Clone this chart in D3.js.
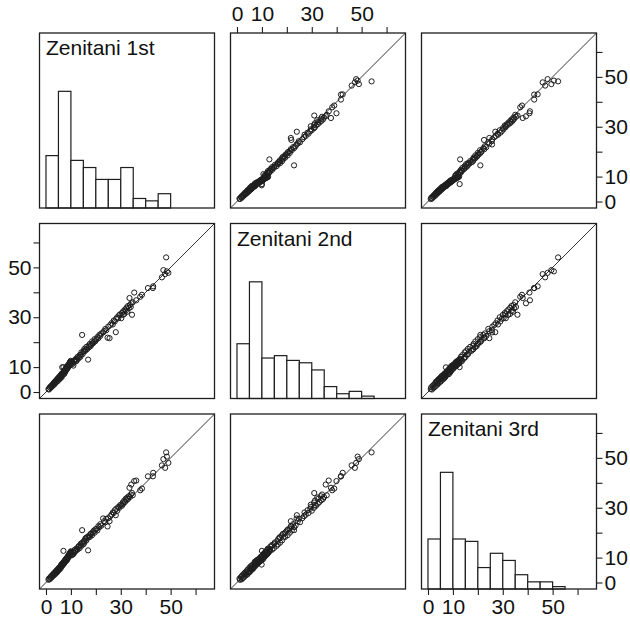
<!DOCTYPE html>
<html>
<head>
<meta charset="utf-8">
<script src="https://cdn.jsdelivr.net/npm/d3@7"></script>
<style>
  body { margin: 0; background: #fff; }
  text { font-family: "Liberation Sans", Arial, Helvetica, sans-serif; fill: #111; }
</style>
</head>
<body>
<script>
// Variable names shown on the diagonal.
const names = ['Zenitani 1st', 'Zenitani 2nd', 'Zenitani 3rd'];

// One value per case for each variable.
const first = [
  1.0, 1.2, 1.5, 1.8, 2.0, 2.2, 2.5, 2.7, 3.0, 3.1, 3.3, 3.5, 3.7, 3.9, 4.0, 4.2, 4.3, 4.5, 4.6, 4.8, 4.9, 5.0,
  5.1, 5.3, 5.4, 5.6, 5.8, 5.9, 6.0, 6.1, 6.2, 6.3, 6.3, 6.5, 6.6, 6.8, 6.9, 7.0, 7.0, 7.2, 7.3, 7.4,
  7.5, 7.6, 7.7, 7.8, 7.9, 8.0, 8.1, 8.1, 8.3, 8.4, 8.5, 8.6, 8.7, 8.8, 8.9, 9.0, 9.1, 9.2, 9.2, 9.3,
  9.4, 9.5, 9.6, 9.6, 9.7, 9.8, 9.9, 9.9, 10.0,
  10.3, 10.5, 10.8, 11.0, 11.2, 11.5, 11.7, 12.0, 12.2, 12.4, 12.7, 13.0, 13.2, 13.5, 13.8, 14.0, 14.2, 14.5, 14.7, 15.0,
  15.2, 15.4, 15.7, 16.0, 16.2, 16.5, 16.9, 17.1, 17.3, 17.6, 17.9, 18.2, 18.5, 18.8, 19.2, 19.5, 19.8,
  20.2, 20.6, 21.0, 21.4, 21.8, 22.2, 22.9, 23.3, 23.8, 24.2, 24.7, 25.0,
  25.5, 25.8, 26.3, 26.8, 27.2, 27.6, 28.0, 28.2, 28.6, 29.0, 29.4, 29.8,
  30.2, 30.5, 30.8, 31.0, 31.4, 31.7, 32.0, 32.3, 32.6, 32.9, 33.2, 33.5, 33.7, 34.0, 34.2, 34.5, 34.8,
  35.4, 36.2, 37.8, 38.5,
  40.9, 42.9, 43.0,
  46.5, 47.1, 47.8, 48.2, 48.5, 49.1
];
const second = [
  1.2, 1.0, 1.9, 1.6, 2.4, 2.0, 2.9, 2.5, 3.4, 3.6, 3.0, 4.1, 3.5, 4.4, 4.6, 4.0, 4.9, 5.1, 4.3, 5.4, 5.6, 5.3,
  5.8, 5.0, 6.1, 6.4, 5.5, 6.6, 6.9, 6.3, 7.1, 6.0, 7.3, 9.9, 7.5, 7.0, 7.8, 10.0, 7.6, 8.3, 7.2, 8.5,
  8.1, 8.9, 8.0, 9.2, 8.6, 9.5, 8.9, 9.8, 9.1, 10.2, 9.4, 10.4, 9.6, 10.7, 10.0, 10.9, 10.3, 11.1, 10.6, 11.4,
  10.8, 11.6, 11.0, 12.0, 11.3, 12.2, 11.5, 12.5, 11.8,
  11.0, 11.9, 11.4, 10.6, 12.6, 12.1, 12.9, 13.3, 12.4, 13.0, 14.1, 13.4, 13.9, 14.8, 14.1, 15.0, 15.9, 22.9, 15.2, 16.4,
  16.2, 17.3, 16.5, 17.0, 18.1, 17.2, 13.0, 18.6, 18.0, 19.3, 18.4, 19.1, 20.3, 19.5, 20.0, 21.2, 20.4,
  21.1, 22.0, 21.6, 22.9, 22.5, 23.5, 23.9, 24.4, 25.3, 24.8, 21.8, 26.2,
  21.6, 26.9, 27.6, 27.1, 28.7, 28.3, 24.0, 29.4, 30.0, 29.6, 30.9, 31.2,
  29.6, 31.7, 30.9, 32.4, 31.3, 33.1, 32.6, 33.8, 32.2, 34.5, 33.6, 37.7, 34.9, 34.1, 35.6, 31.0, 36.0,
  39.9, 36.8, 38.2, 39.0,
  41.7, 41.7, 42.4,
  46.0, 48.9, 47.3, 54.0, 48.4, 47.8
];
const third = [
  1.1, 1.6, 1.3, 2.2, 1.8, 2.7, 2.3, 3.2, 2.8, 3.5, 3.8, 3.2, 4.2, 3.6, 4.5, 4.8, 4.1, 4.3, 5.2, 4.6, 5.3, 5.6,
  5.4, 6.0, 5.2, 6.2, 6.5, 5.7, 6.8, 7.0, 6.4, 6.9, 7.4, 7.2, 6.8, 7.9, 7.3, 12.7, 8.1, 7.6, 8.4, 7.9,
  8.8, 8.2, 9.0, 8.5, 9.3, 8.7, 9.6, 9.1, 8.9, 9.8, 10.1, 9.3, 10.3, 9.9, 10.6, 10.2, 10.9, 10.4, 11.2, 10.8,
  11.5, 11.0, 11.7, 11.3, 12.0, 11.6, 12.3, 11.9, 12.5,
  10.9, 11.2, 12.3, 11.4, 12.0, 13.1, 12.4, 12.8, 13.6, 13.4, 13.2, 14.4, 14.6, 13.8, 15.1, 15.6, 14.7, 21.0, 16.1, 15.3,
  16.6, 16.0, 17.4, 17.9, 16.9, 18.2, 12.9, 18.1, 18.9, 18.3, 19.5, 19.7, 19.0, 20.2, 20.8, 20.0, 21.3,
  21.5, 20.9, 22.6, 22.2, 23.4, 22.8, 25.7, 24.6, 24.2, 25.6, 22.5, 25.8,
  24.6, 26.6, 27.2, 28.1, 27.9, 29.0, 27.0, 29.6, 28.8, 30.3, 30.0, 31.1,
  31.2, 30.8, 32.1, 31.6, 32.9, 32.3, 33.6, 33.0, 34.1, 33.5, 34.6, 38.0, 34.3, 35.3, 39.3, 35.9, 35.0,
  40.7, 40.9, 37.0, 37.7,
  42.6, 42.6, 44.0,
  47.0, 49.5, 46.0, 52.2, 50.5, 48.0
];

// Histogram bins (width 5) and counts per variable.
const binEdges = [0, 5, 10, 15, 20, 25, 30, 35, 40, 45, 50, 55];
const hist1 = [22, 49, 20, 17, 12, 12, 17, 4, 3, 6];
const hist2 = [23, 49, 17, 18, 16, 15, 12, 5, 2, 3, 1];
const hist3 = [21, 49, 21, 20, 9, 15, 12, 6, 3, 3, 1];

// Axis ticks.
const tickValues = [0, 10, 20, 30, 40, 50, 60];
const tickLabels = ['0', '10', '', '30', '', '50', ''];

const vars = [first, second, third];
const hists = [hist1, hist2, hist3];

const width = 630;
const height = 619;
const size = 175;
const colX = [39.5, 230.5, 421.5];
const rowY = [33, 223.5, 414];
const ink = '#1e1e1e';
const fontSize = 21;

// Same range on both axes, padded 4% like R.
const domain = [-2.6, 67.6];
const x = d3.scaleLinear().domain(domain).range([0, size]);
const y = d3.scaleLinear().domain(domain).range([size, 0]);
const yHist = d3.scaleLinear().domain([0, 1.5]).range([size, 0]);

const svg = d3.select('body')
  .append('svg')
  .attr('width', width)
  .attr('height', height);

function styleAxis(g) {
  g.select('.domain').remove();
  g.selectAll('.tick line').attr('stroke', ink).attr('stroke-width', 1.1);
  g.selectAll('.tick text')
    .attr('font-family', '"Liberation Sans", Arial, Helvetica, sans-serif')
    .attr('font-size', fontSize)
    .attr('fill', '#111');
}

for (let i = 0; i < 3; i++) {
  for (let j = 0; j < 3; j++) {
    const g = svg.append('g')
      .attr('transform', 'translate(' + colX[j] + ',' + rowY[i] + ')');

    if (i === j) {
      // Histogram on the diagonal.
      const counts = hists[i];
      const maxCount = d3.max(counts);
      g.selectAll('rect.bar')
        .data(counts)
        .enter()
        .append('rect')
        .attr('class', 'bar')
        .attr('x', (d, k) => x(binEdges[k]))
        .attr('width', (d, k) => x(binEdges[k + 1]) - x(binEdges[k]))
        .attr('y', (d) => yHist(d / maxCount))
        .attr('height', (d) => size - yHist(d / maxCount))
        .attr('fill', '#fff')
        .attr('stroke', ink)
        .attr('stroke-width', 1.2);

      g.append('text')
        .attr('x', x(0))
        .attr('y', 22)
        .attr('font-size', fontSize)
        .text(names[i]);
    } else {
      // Scatter: x is column variable, y is row variable.
      const xs = vars[j];
      const ys = vars[i];

      g.append('line')
        .attr('x1', x(domain[0]))
        .attr('y1', y(domain[0]))
        .attr('x2', x(domain[1]))
        .attr('y2', y(domain[1]))
        .attr('stroke', ink)
        .attr('stroke-width', 0.9);

      g.selectAll('circle')
        .data(xs)
        .enter()
        .append('circle')
        .attr('cx', (d) => x(d))
        .attr('cy', (d, k) => y(ys[k]))
        .attr('r', 2.6)
        .attr('fill', 'none')
        .attr('stroke', ink)
        .attr('stroke-width', 1);
    }

    // Panel border.
    g.append('rect')
      .attr('width', size)
      .attr('height', size)
      .attr('fill', 'none')
      .attr('stroke', ink)
      .attr('stroke-width', 1.3);

    // Axes alternate sides, as in R pairs().
    if (i === 0 && j === 1) {
      g.append('g')
        .call(d3.axisTop(x).tickValues(tickValues).tickSize(6).tickPadding(6)
          .tickFormat((d, k) => tickLabels[k]))
        .call(styleAxis);
    }
    if (i === 2 && (j === 0 || j === 2)) {
      g.append('g')
        .attr('transform', 'translate(0,' + size + ')')
        .call(d3.axisBottom(x).tickValues(tickValues).tickSize(6).tickPadding(4)
          .tickFormat((d, k) => tickLabels[k]))
        .call(styleAxis);
    }
    if (j === 0 && i === 1) {
      g.append('g')
        .call(d3.axisLeft(y).tickValues(tickValues).tickSize(6).tickPadding(2)
          .tickFormat((d, k) => tickLabels[k]))
        .call(styleAxis);
    }
    if (j === 2 && (i === 0 || i === 2)) {
      g.append('g')
        .attr('transform', 'translate(' + size + ',0)')
        .call(d3.axisRight(y).tickValues(tickValues).tickSize(6).tickPadding(2)
          .tickFormat((d, k) => tickLabels[k]))
        .call(styleAxis);
    }
  }
}
</script>
</body>
</html>
